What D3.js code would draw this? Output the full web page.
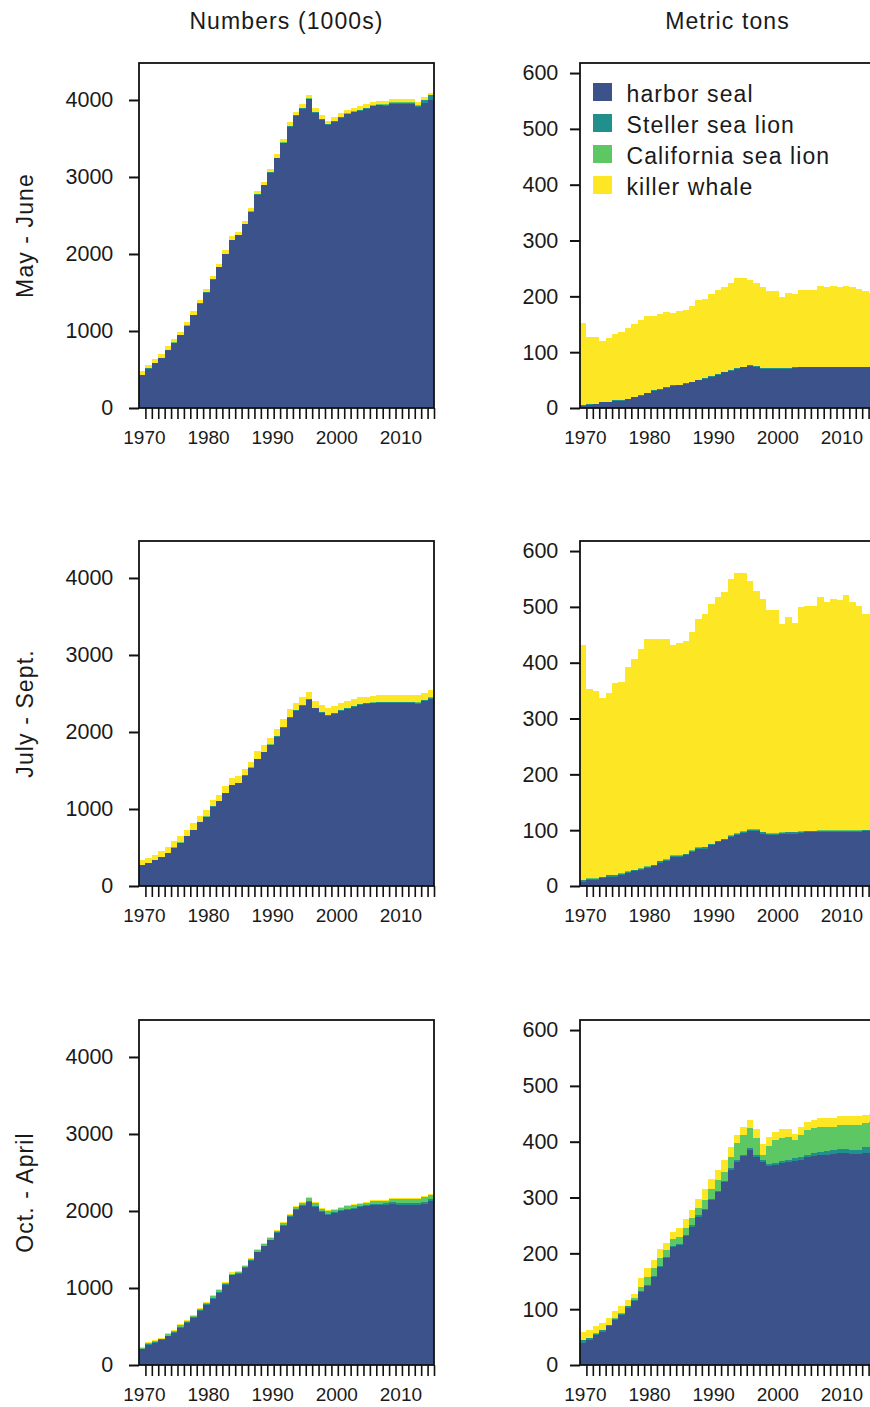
<!DOCTYPE html>
<html>
<head>
<meta charset="utf-8">
<script src="https://cdn.jsdelivr.net/npm/d3@7"></script>
<style>
  body { margin: 0; background: #fff; }
  svg { display: block; }
  text { font-family: "Liberation Sans", Arial, sans-serif; fill: #1a1a1a; }
</style>
</head>
<body>
<div id="chart"></div>
<script>
var years = [1970,1971,1972,1973,1974,1975,1976,1977,1978,1979,1980,1981,1982,1983,1984,1985,1986,1987,1988,1989,
             1990,1991,1992,1993,1994,1995,1996,1997,1998,1999,2000,2001,2002,2003,2004,2005,2006,2007,2008,2009,
             2010,2011,2012,2013,2014,2015]
var yearLabels = [1970, 1980, 1990, 2000, 2010]
var species = ["harbor seal", "Steller sea lion", "California sea lion", "killer whale"]
var colors = ["#3B528B", "#21908C", "#5DC863", "#FDE725"]
var columnTitles = ["Numbers (1000s)", "Metric tons"]
var seasons = ["May - June", "July - Sept.", "Oct. - April"]
var numTicks = [0, 1000, 2000, 3000, 4000]
var tonTicks = [0, 100, 200, 300, 400, 500, 600]

// numbers (1000s), May - June
var numMayJun_hs = [430,512,582,651,755,847,942,1068,1207,1355,1498,1667,1828,2002,2184,2241,2384,2549,2771,2892,
                    3056,3242,3438,3655,3788,3889,4011,3837,3746,3677,3716,3768,3812,3838,3859,3885,3916,3929,3921,3947,
                    3947,3947,3947,3908,3958,3997]
var numMayJun_ssl = [2,2,2,2,2,2,2,2,2,2,2,2,2,2,2,2,2,2,2,2,8,8,8,8,14,8,8,8,8,8,12,12,12,12,12,12,12,12,20,20,20,20,20,20,45,62]
var numMayJun_csl = [2,2,2,2,2,2,2,2,2,2,2,2,2,2,2,2,2,2,2,2,2,2,2,2,2,2,2,2,2,2,2,2,2,2,2,2,2,2,2,2,2,2,2,2,2,2]
var numMayJun_kw = [44,44,44,44,44,44,44,44,44,44,44,44,44,44,44,44,44,44,44,44,44,44,44,44,44,44,44,44,44,44,44,44,44,44,44,44,44,44,44,44,44,44,44,44,30,26]

// numbers (1000s), July - Sept.
var numJulSep_hs = [269,299,334,378,430,495,560,647,725,825,899,1030,1099,1204,1312,1334,1434,1534,1647,1734,
                    1827,1936,2058,2184,2275,2340,2414,2305,2249,2214,2240,2275,2301,2327,2349,2362,2371,2379,2374,2374,
                    2374,2374,2374,2366,2396,2431]
var numJulSep_ssl = [3,3,3,3,3,3,3,3,3,3,3,3,3,3,3,3,3,3,3,3,10,10,10,10,10,10,10,10,10,10,10,10,10,10,10,10,10,10,15,15,15,15,15,15,15,15]
var numJulSep_csl = [2,2,2,2,2,2,2,2,2,2,2,2,2,2,2,2,2,2,2,2,2,2,2,2,2,2,2,2,2,2,2,2,2,2,2,2,2,2,2,2,2,2,2,2,2,2]
var numJulSep_kw = [65,61,70,74,74,78,87,78,83,83,87,78,83,87,83,87,83,74,95,87,87,96,95,108,91,96,96,87,87,87,
                    87,87,87,87,87,83,87,87,87,87,87,87,87,95,91,100]

// numbers (1000s), Oct. - April
var numOctApr_hs = [204,260,291,325,373,421,486,542,607,703,781,863,941,1041,1163,1184,1258,1349,1462,1540,
                    1618,1713,1809,1922,2008,2061,2113,2052,1987,1952,1974,1996,2017,2030,2048,2061,2082,2082,2082,2095,
                    2082,2082,2082,2082,2095,2126]
var numOctApr_ssl = [10,10,10,10,10,10,10,10,10,10,10,10,10,10,10,10,10,10,10,10,10,10,10,10,15,15,15,15,15,15,15,15,15,15,15,15,15,15,25,25,25,25,25,25,25,25]
var numOctApr_csl = [11,20,10,7,15,10,19,20,20,19,15,24,20,19,15,15,15,15,19,19,15,20,19,19,24,23,36,32,23,36,
                     27,27,36,32,27,31,28,36,26,31,44,44,44,44,57,60]
var numOctApr_kw = [14,14,14,14,14,14,14,14,14,14,14,14,14,14,14,14,14,14,14,14,14,14,14,14,14,14,14,14,14,14,14,14,14,14,14,14,14,14,14,14,14,14,14,14,14,14]

// metric tons, May - June
var tonMayJun_hs = [4,6,7,10,10,13,13,16,19,22,26,30,32,36,40,41,43,46,50,52,56,60,64,67,70,73,76,74,70,70,
                    70,70,70,72,73,73,73,73,73,73,73,73,73,73,73,73]
var tonMayJun_ssl = [1,1,1,1,1,1,1,1,1,1,1,2,2,2,1,1,1,1,1,1,1,1,1,1,1,1,1,1,1,1,1,1,2,1,1,1,1,1,1,1,1,1,1,1,1,1]
var tonMayJun_csl = [0,0,0,0,0,0,0,0,0,0,0,0,0,0,0,0,0,0,0,0,0,0,0,0,0,0,0,0,0,0,0,0,0,0,0,0,0,0,0,0,0,0,0,0,0,0]
var tonMayJun_kw = [148,120,119,109,115,119,122,126,130,135,138,133,135,134,129,131,132,135,142,143,148,151,151,156,161,158,152,149,145,139,
                    139,128,134,131,138,138,138,145,142,144,142,145,142,139,136,132]

// metric tons, July - Sept.
var tonJulSep_hs = [8,11,11,14,17,17,20,23,26,29,32,35,42,45,52,52,55,61,66,67,73,78,82,88,92,95,99,99,94,92,
                    92,93,94,94,95,96,96,97,97,97,97,97,97,97,98,98]
var tonJulSep_ssl = [2,2,2,2,2,2,2,2,2,2,2,2,2,2,2,2,2,2,2,2,2,2,2,2,2,2,2,2,2,2,2,2,2,2,2,2,2,2,2,2,2,2,2,2,2,2]
var tonJulSep_csl = [1,1,1,1,1,1,1,1,1,1,1,1,1,1,1,1,1,1,1,1,1,1,1,1,1,1,1,1,1,1,1,1,1,1,1,1,1,1,1,1,1,1,1,1,1,1]
var tonJulSep_kw = [421,338,335,320,326,343,343,366,377,393,407,404,397,394,377,380,380,391,409,418,429,437,442,459,466,463,445,426,418,399,
                    399,373,385,374,401,402,402,418,409,415,412,421,409,401,387,387]

// metric tons, Oct. - April
var tonOctApr_hs = [40,45,54,60,69,81,90,103,115,130,141,158,176,191,211,215,231,248,266,278,296,310,328,350,364,374,385,373,364,356,
                    358,361,364,366,368,372,374,376,377,378,379,379,378,378,380,380]
var tonOctApr_ssl = [4,3,2,2,2,2,2,2,2,2,2,2,2,2,2,2,2,2,2,2,2,2,2,2,3,3,3,3,3,4,4,4,4,4,5,5,6,6,7,7,8,8,8,8,11,11]
var tonOctApr_csl = [1,1,1,1,1,1,2,1,3,8,15,13,13,13,12,13,12,13,13,16,18,19,16,21,31,35,36,30,9,32,
                     41,41,41,33,39,44,44,44,43,42,43,43,44,44,42,44]
var tonOctApr_kw = [15,14,13,12,12,12,12,10,8,15,15,15,16,12,14,15,16,15,16,20,18,18,21,18,14,14,15,16,20,17,
                    15,16,13,11,15,15,15,16,15,15,16,16,16,16,15,15]

var W = 870, H = 1407
var colX = [139, 580], rowY = [63, 541, 1020]
var pw = 295, ph = 345

var panels = [
  {row: 0, col: 0, series: [numMayJun_hs, numMayJun_ssl, numMayJun_csl, numMayJun_kw]},
  {row: 1, col: 0, series: [numJulSep_hs, numJulSep_ssl, numJulSep_csl, numJulSep_kw]},
  {row: 2, col: 0, series: [numOctApr_hs, numOctApr_ssl, numOctApr_csl, numOctApr_kw]},
  {row: 0, col: 1, series: [tonMayJun_hs, tonMayJun_ssl, tonMayJun_csl, tonMayJun_kw]},
  {row: 1, col: 1, series: [tonJulSep_hs, tonJulSep_ssl, tonJulSep_csl, tonJulSep_kw]},
  {row: 2, col: 1, series: [tonOctApr_hs, tonOctApr_ssl, tonOctApr_csl, tonOctApr_kw]}
]

var svg = d3.select("#chart").append("svg")
  .attr("width", W)
  .attr("height", H)

// column titles
svg.selectAll(".coltitle").data(columnTitles).enter().append("text")
  .attr("x", function(d, i) { return colX[i] + pw / 2 })
  .attr("y", 28.5)
  .attr("text-anchor", "middle")
  .attr("font-size", 23)
  .attr("letter-spacing", "1.1px")
  .text(function(d) { return d })

// season labels down the left side
svg.selectAll(".rowtitle").data(seasons).enter().append("text")
  .attr("transform", function(d, i) { return "translate(33," + (rowY[i] + ph / 2) + ") rotate(-90)" })
  .attr("text-anchor", "middle")
  .attr("font-size", 23)
  .attr("letter-spacing", "1.1px")
  .text(function(d) { return d })

panels.forEach(function(p) {
  var g = svg.append("g").attr("transform", "translate(" + colX[p.col] + "," + rowY[p.row] + ")")
  var yMax = p.col == 0 ? 4480 : 618
  var ticks = p.col == 0 ? numTicks : tonTicks
  var gap = p.col == 0 ? 25.7 : 21.7

  var x = d3.scaleLinear().domain([1969, 2015]).range([0, pw])
  var y = d3.scaleLinear().domain([0, yMax]).range([ph, 0])

  var rows = years.map(function(yr, i) {
    var r = {year: yr}
    species.forEach(function(s, k) { r[s] = p.series[k][i] })
    return r
  })
  var stacked = d3.stack().keys(species)(rows)

  g.selectAll(".layer").data(stacked).enter().append("g")
    .attr("fill", function(d, i) { return colors[i] })
    .attr("shape-rendering", "crispEdges")
    .selectAll("rect").data(function(d) { return d }).enter().append("rect")
      .attr("x", function(d) { return x(d.data.year - 1) })
      .attr("width", function(d) { return x(d.data.year) - x(d.data.year - 1) })
      .attr("y", function(d) { return y(d[1]) })
      .attr("height", function(d) { return y(d[0]) - y(d[1]) })

  // y axis
  var ya = g.append("g")
    .call(d3.axisLeft(y).tickValues(ticks).tickFormat(d3.format("d"))
      .tickSize(10).tickSizeOuter(0).tickPadding(gap - 10))
    .attr("font-family", null)
    .attr("font-size", 21.5)
  ya.select(".domain").remove()
  ya.selectAll("line").attr("stroke", "#111").attr("stroke-width", 2)
  ya.selectAll("text").attr("fill", "#1a1a1a")

  // x axis, a tick per year, labels each decade
  var xa = g.append("g")
    .attr("transform", "translate(0," + ph + ")")
    .call(d3.axisBottom(x).tickValues(years).tickSize(11).tickSizeOuter(0).tickPadding(12)
      .tickFormat(function(d) { return yearLabels.indexOf(d) >= 0 ? d : "" }))
    .attr("font-family", null)
    .attr("font-size", 19)
  xa.select(".domain").remove()
  xa.selectAll("line").attr("stroke", "#111").attr("stroke-width", 1.6)
  xa.selectAll("text").attr("fill", "#1a1a1a").attr("dx", -1.5)

  g.append("rect")
    .attr("width", pw)
    .attr("height", ph)
    .attr("fill", "none")
    .attr("stroke", "#111")
    .attr("stroke-width", 1.8)

  // legend sits in the top right panel
  if (p.row == 0 && p.col == 1) {
    var legend = g.selectAll(".legends").data(species).enter().append("g")
      .attr("transform", function(d, i) { return "translate(13," + (20 + i * 31) + ")" })
    legend.append("rect")
      .attr("width", 19)
      .attr("height", 18)
      .attr("fill", function(d, i) { return colors[i] })
    legend.append("text")
      .attr("x", 33.5)
      .attr("y", 18.5)
      .attr("font-size", 23)
      .attr("letter-spacing", "1.1px")
      .text(function(d) { return d })
  }
})
</script>
</body>
</html>
